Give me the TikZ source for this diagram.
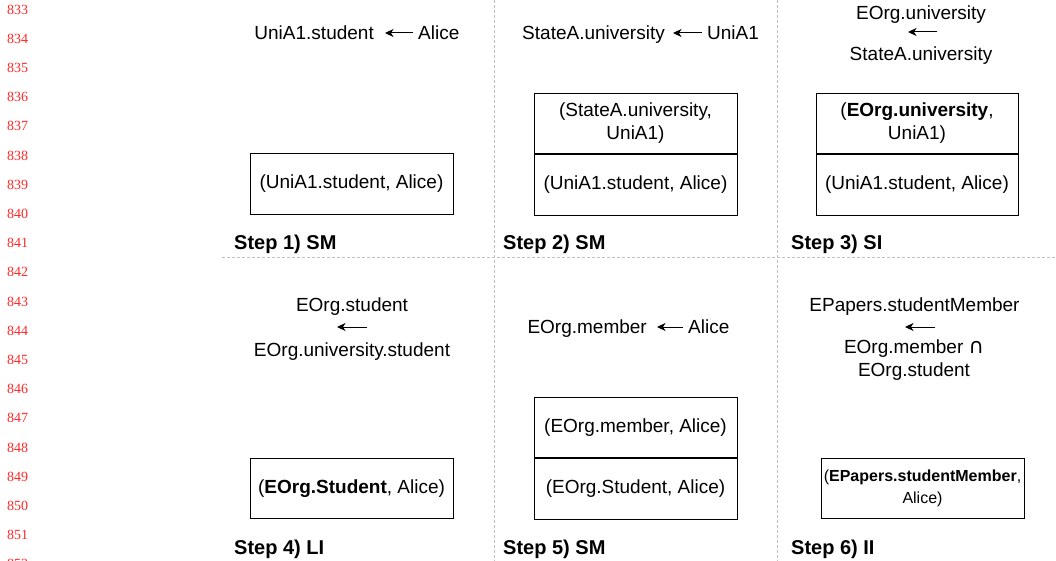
\documentclass[tikz,border=0pt]{standalone}
\usepackage{fontspec}
\setmainfont{Liberation Sans}
\newfontfamily\numfont{Liberation Serif}
\newfontfamily\symfont{DejaVu Sans}
\usetikzlibrary{arrows.meta}
\definecolor{lnred}{RGB}{255,40,40}
\begin{document}
\begin{tikzpicture}[x=1pt,y=-1pt,
  txt/.style={font=\fontsize{19}{23}\selectfont, inner sep=0pt, text height=13.6pt, text depth=0pt},
  steplbl/.style={font=\fontsize{20}{24}\selectfont\bfseries, anchor=west, inner sep=0pt, text height=14.3pt, text depth=0pt},
  cell/.style={draw=black, line width=0.9pt, minimum width=203pt, minimum height=60.5pt, inner sep=0pt, align=center, font=\fontsize{19}{23}\selectfont},
  sep/.style={draw=gray!50, dash pattern=on 3pt off 2pt, line width=0.9pt},
  arr/.style={-{Stealth[length=8.5pt,width=8pt,inset=2.5pt]}, line width=1pt},
  lnum/.style={font=\numfont\fontsize{14}{15}\selectfont, text=lnred, anchor=west, inner sep=0pt}]
\useasboundingbox (0,0) rectangle (1056,561);
\clip (0,0) rectangle (1056,561);

% line numbers
\foreach \i in {0,...,19} {
  \pgfmathtruncatemacro\lnval{833+\i}
  \node[lnum] (ln\i) at (7, 9.5+29.2*\i) {\lnval};
}

% separators
\draw[sep] (494,0) -- (494,561);
\draw[sep] (777,0) -- (777,561);
\draw[sep] (222,257) -- (1056,257);

% Panel 1
\node[txt, anchor=east] (p1l) at (374,33) {UniA1.student};
\node[txt, anchor=west] (p1r) at (418,33) {Alice};
\draw[arr] ([xshift=-5pt]p1r.west) -- ([xshift=11pt]p1l.east);
\node[cell] (b1) at (351.5,184) {(UniA1.student, Alice)};
\node[steplbl] (s1) at (234,242) {Step 1) SM};

% Panel 2
\node[txt, anchor=east] (p2l) at (665,33) {StateA.university};
\node[txt, anchor=west] (p2r) at (707,33) {UniA1};
\draw[arr] ([xshift=-5pt]p2r.west) -- ([xshift=8pt]p2l.east);
\node[cell] (b2t) at (635.5,123.5) {(StateA.university,\\UniA1)};
\node[cell, anchor=north] (b2b) at (b2t.south) {(UniA1.student, Alice)};
\node[steplbl] (s2) at (503,242) {Step 2) SM};

% Panel 3
\node[txt] (p3a) at (921,13) {EOrg.university};
\node[txt] (p3b) at (921,54) {StateA.university};
\coordinate (p3s) at (937,32);
\coordinate (p3e) at (908,32);
\draw[arr] (p3s) -- (p3e);
\node[cell, minimum width=202pt] (b3t) at (917,123.5) {(\textbf{EOrg.university},\\UniA1)};
\node[cell, minimum width=202pt, anchor=north] (b3b) at (b3t.south) {(UniA1.student, Alice)};
\node[steplbl] (s3) at (791,242) {Step 3) SI};

% Panel 4
\node[txt] (p4a) at (352,305) {EOrg.student};
\node[txt] (p4b) at (352,350) {EOrg.university.student};
\coordinate (p4s) at (367,327);
\coordinate (p4e) at (337,327);
\draw[arr] (p4s) -- (p4e);
\node[cell] (b4) at (351.5,488.5) {(\textbf{EOrg.Student}, Alice)};
\node[steplbl] (s4) at (234,547) {Step 4) LI};

% Panel 5
\node[txt, anchor=east] (p5l) at (647,327) {EOrg.member};
\node[txt, anchor=west] (p5r) at (688,327) {Alice};
\draw[arr] ([xshift=-5pt]p5r.west) -- ([xshift=10pt]p5l.east);
\node[cell] (b5t) at (635.5,427.5) {(EOrg.member, Alice)};
\node[cell, anchor=north] (b5b) at (b5t.south) {(EOrg.Student, Alice)};
\node[steplbl] (s5) at (503,547) {Step 5) SM};

% Panel 6
\node[txt] (p6a) at (914.5,305) {EPapers.studentMember};
\node[txt, align=center, text height=, text depth=] (p6b) at (914,360) {EOrg.member {\symfont\fontsize{21}{23}\selectfont ∩}\\EOrg.student};
\coordinate (p6s) at (935,327);
\coordinate (p6e) at (905,327);
\draw[arr] (p6s) -- (p6e);
\node[cell, font=\fontsize{16}{22}\selectfont] (b6) at (922.5,488.5) {(\textbf{EPapers.studentMember},\\Alice)};
\node[steplbl] (s6) at (791,547) {Step 6) II};
\end{tikzpicture}
\end{document}
